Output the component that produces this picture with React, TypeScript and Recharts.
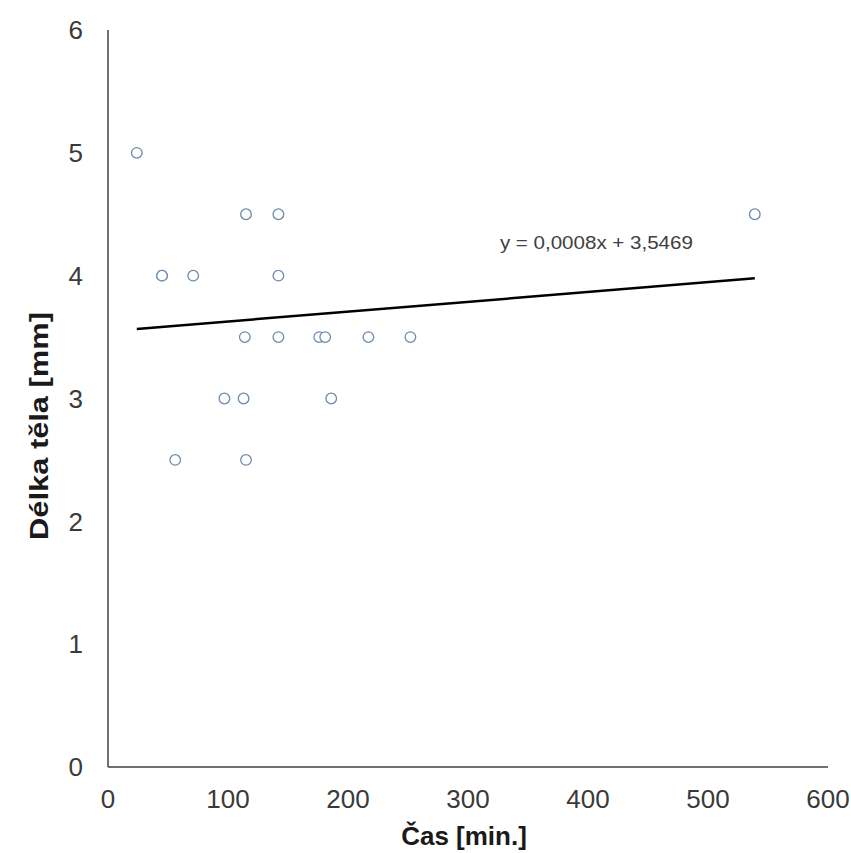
import React from 'react';
import { ScatterChart, Scatter, XAxis, YAxis, ReferenceDot } from 'recharts';

// Measured values (time in minutes, body length in mm)
const timeMin = [24, 45, 45, 71, 142, 115, 142, 114, 142, 176, 181, 217, 252, 97, 113, 186, 56, 115, 539];
const bodyLength = [5, 4, 4, 4, 4, 4.5, 4.5, 3.5, 3.5, 3.5, 3.5, 3.5, 3.5, 3, 3, 3, 2.5, 2.5, 4.5];

const xTicks = [0, 100, 200, 300, 400, 500, 600];
const yTicks = [0, 1, 2, 3, 4, 5, 6];

const trendSlope = 0.0008;
const trendIntercept = 3.5469;
const equationText = 'y = 0,0008x + 3,5469';
const xTitle = 'Čas [min.]';
const yTitle = 'Délka těla [mm]';

const points = timeMin.map((x, i) => ({ x, y: bodyLength[i] }));
const xMin = Math.min(...timeMin);
const xMax = Math.max(...timeMin);
const trend = [xMin, xMax].map((x) => ({ x, y: trendSlope * x + trendIntercept }));

const FONT = '"Liberation Sans", Arial, sans-serif';
const AXIS = '#404040';

const Marker = (props: any) => (
  <circle cx={props.cx} cy={props.cy} r={5.3} fill="#ffffff" stroke="#6a8aae" strokeWidth={1.3} />
);

const XTitle = (props: any) => {
  const vb = props.viewBox;
  return (
    <text
      x={vb.x + vb.width / 2 - 4}
      y={845}
      textAnchor="middle"
      fontFamily={FONT}
      fontWeight="bold"
      fontSize={26}
      fill="#1a1a1a"
    >
      {xTitle}
    </text>
  );
};

const YTitle = () => (
  <text
    x={0}
    y={0}
    transform="translate(39, 426) rotate(-90)"
    textAnchor="middle"
    dominantBaseline="central"
    fontFamily={FONT}
    fontWeight="bold"
    fontSize={25}
    fill="#1a1a1a"
    textLength={228}
    lengthAdjust="spacingAndGlyphs"
  >
    {yTitle}
  </text>
);

const EquationLabel = (props: any) => {
  const vb = props.viewBox;
  return (
    <text
      x={vb.x}
      y={vb.y}
      textAnchor="middle"
      dominantBaseline="central"
      fontFamily={FONT}
      fontSize={19}
      fill="#404040"
      textLength={193}
      lengthAdjust="spacingAndGlyphs"
    >
      {equationText}
    </text>
  );
};

export default function App() {
  return (
    <div style={{ width: 851, height: 853, background: '#fff' }}>
      <style>{`body{margin:0;background:#fff;overflow:hidden}`}</style>
      <ScatterChart width={851} height={853} margin={{ top: 30, right: 23, left: 0, bottom: 0 }}>
        <XAxis
          type="number"
          dataKey="x"
          domain={[0, 600]}
          ticks={xTicks}
          interval={0}
          height={86}
          axisLine={{ stroke: AXIS, strokeWidth: 1.5 }}
          tickLine={false}
          tickSize={0}
          tickMargin={23}
          tick={{ fontSize: 26, fill: '#3a3a3a', fontFamily: FONT }}
          label={<XTitle />}
        />
        <YAxis
          type="number"
          dataKey="y"
          domain={[0, 6]}
          ticks={yTicks}
          interval={0}
          width={108}
          axisLine={{ stroke: AXIS, strokeWidth: 1.5 }}
          tickLine={false}
          tickSize={0}
          tickMargin={25}
          tick={{ fontSize: 26, fill: '#3a3a3a', fontFamily: FONT }}
          label={<YTitle />}
        />
        <Scatter
          data={trend}
          line={{ stroke: '#000', strokeWidth: 2.5 }}
          shape={() => <g />}
          isAnimationActive={false}
        />
        <Scatter data={points} shape={Marker} isAnimationActive={false} />
        <ReferenceDot x={407} y={4.27} r={0} stroke="none" fill="none" label={<EquationLabel />} />
      </ScatterChart>
    </div>
  );
}
